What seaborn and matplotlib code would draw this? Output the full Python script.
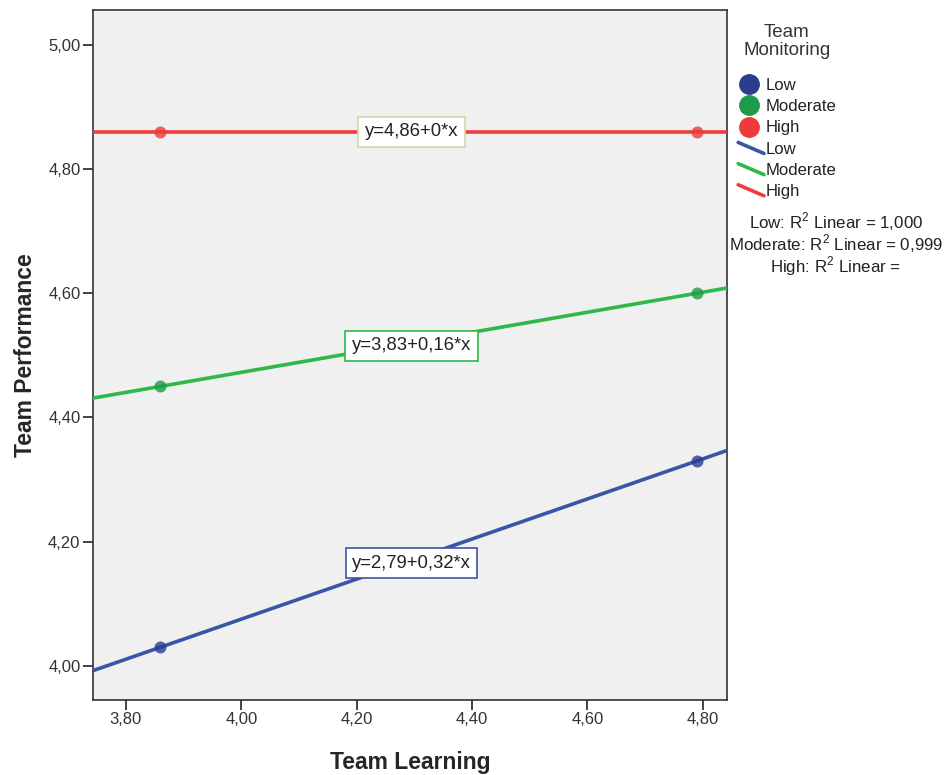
import numpy as np
import pandas as pd
import matplotlib
matplotlib.use("Agg")
import matplotlib.pyplot as plt
import seaborn as sns
from matplotlib.lines import Line2D
from matplotlib.legend_handler import HandlerBase

# ---- data ----
groups = ["Low", "Moderate", "High"]
team_learning = [3.86, 4.79]
perf_low = [4.03, 4.33]
perf_moderate = [4.45, 4.60]
perf_high = [4.86, 4.86]
equations = ["y=2,79+0,32*x", "y=3,83+0,16*x", "y=4,86+0*x"]
r2_labels = ["Low: R$^2$ Linear = 1,000", "Moderate: R$^2$ Linear = 0,999", "High: R$^2$ Linear = "]
x_ticks = [3.8, 4.0, 4.2, 4.4, 4.6, 4.8]
y_ticks = [4.0, 4.2, 4.4, 4.6, 4.8, 5.0]

line_colors = ["#3a55a8", "#2fb84a", "#f23b3b"]
marker_colors = ["#2b3d8e", "#1f9a48", "#ee3a3a"]
box_edges = ["#3a55a8", "#2fb84a", "#d8d4a8"]
label_pos = [(4.295, 4.165), (4.295, 4.515), (4.295, 4.86)]

df = pd.DataFrame({
    "Team Learning": team_learning * 3,
    "Team Performance": perf_low + perf_moderate + perf_high,
    "Team Monitoring": [g for g in groups for _ in team_learning],
})

sns.set_style("white")
plt.rcParams["font.family"] = ["Liberation Sans", "DejaVu Sans"]
plt.rcParams["mathtext.fontset"] = "custom"
plt.rcParams["mathtext.rm"] = "Liberation Sans"

fig = plt.figure(figsize=(9.45, 7.75), dpi=100)
ax = fig.add_axes([93 / 945, 1 - 700 / 775, (727 - 93) / 945, (700 - 10) / 775])
ax.set_facecolor("#f0f0f0")
ax.set_xlim(3.743, 4.842)
ax.set_ylim(3.945, 5.056)

for g, lc, mc in zip(groups, line_colors, marker_colors):
    sub = df[df["Team Monitoring"] == g]
    sns.regplot(data=sub, x="Team Learning", y="Team Performance", ax=ax,
                ci=None, truncate=False,
                scatter_kws=dict(s=75, color=mc, zorder=4, linewidths=0),
                line_kws=dict(color=lc, lw=2.6, zorder=3))

ax.set_xlim(3.743, 4.842)
ax.set_ylim(3.945, 5.056)

for eq, (lx, ly), ec in zip(equations, label_pos, box_edges):
    ax.text(lx, ly, eq, ha="center", va="center", fontsize=13.3, zorder=6, color="#222222",
            bbox=dict(boxstyle="square,pad=0.35", fc="white", ec=ec, lw=1.2))

ax.set_xticks(x_ticks)
ax.set_xticklabels([f"{v:.2f}".replace(".", ",") for v in x_ticks])
ax.set_yticks(y_ticks)
ax.set_yticklabels([f"{v:.2f}".replace(".", ",") for v in y_ticks])
ax.tick_params(axis="both", which="major", length=7, width=1.2, color="#222222",
               labelsize=12, labelcolor="#333333", direction="out", bottom=True, left=True, pad=2)
for s in ax.spines.values():
    s.set_color("#333333")
    s.set_linewidth(1.2)

ax.set_xlabel("Team Learning", fontsize=16.5, fontweight="bold", labelpad=17)
ax.set_ylabel("Team Performance", fontsize=16.5, fontweight="bold", labelpad=8)


class SlopedLine(HandlerBase):
    def create_artists(self, legend, orig_handle, xdescent, ydescent, width, height, fontsize, trans):
        l = Line2D([-xdescent + 3, -xdescent + width], [height * 0.95, height * 0.0],
                   color=orig_handle.get_color(), lw=2.6, transform=trans)
        return [l]


fig.text(787 / 945, 1 - 41.5 / 775, "Team\nMonitoring", ha="center", va="center",
         multialignment="center", fontsize=13.5, color="#333333", linespacing=1.05)

handles = [Line2D([], [], ls="", marker="o", markersize=14, color=c) for c in marker_colors]
handles += [Line2D([], [], color=c, lw=2.6) for c in line_colors]
handler_map = {h: SlopedLine() for h in handles[3:]}
leg = fig.legend(handles, groups + groups, handler_map=handler_map,
                 loc="upper left", bbox_to_anchor=(734 / 945, 1 - 78 / 775),
                 frameon=False, fontsize=12, handlelength=1.8,
                 handletextpad=0.1, labelspacing=0.37, borderaxespad=0, borderpad=0)
for t in leg.get_texts():
    t.set_color("#222222")

for i, t in enumerate(r2_labels):
    fig.text(836 / 945, 1 - (222 + 22 * i) / 775, t, ha="center", va="center", fontsize=12.2,
             color="#222222")

fig.savefig("out.png", dpi=100, facecolor="white")
